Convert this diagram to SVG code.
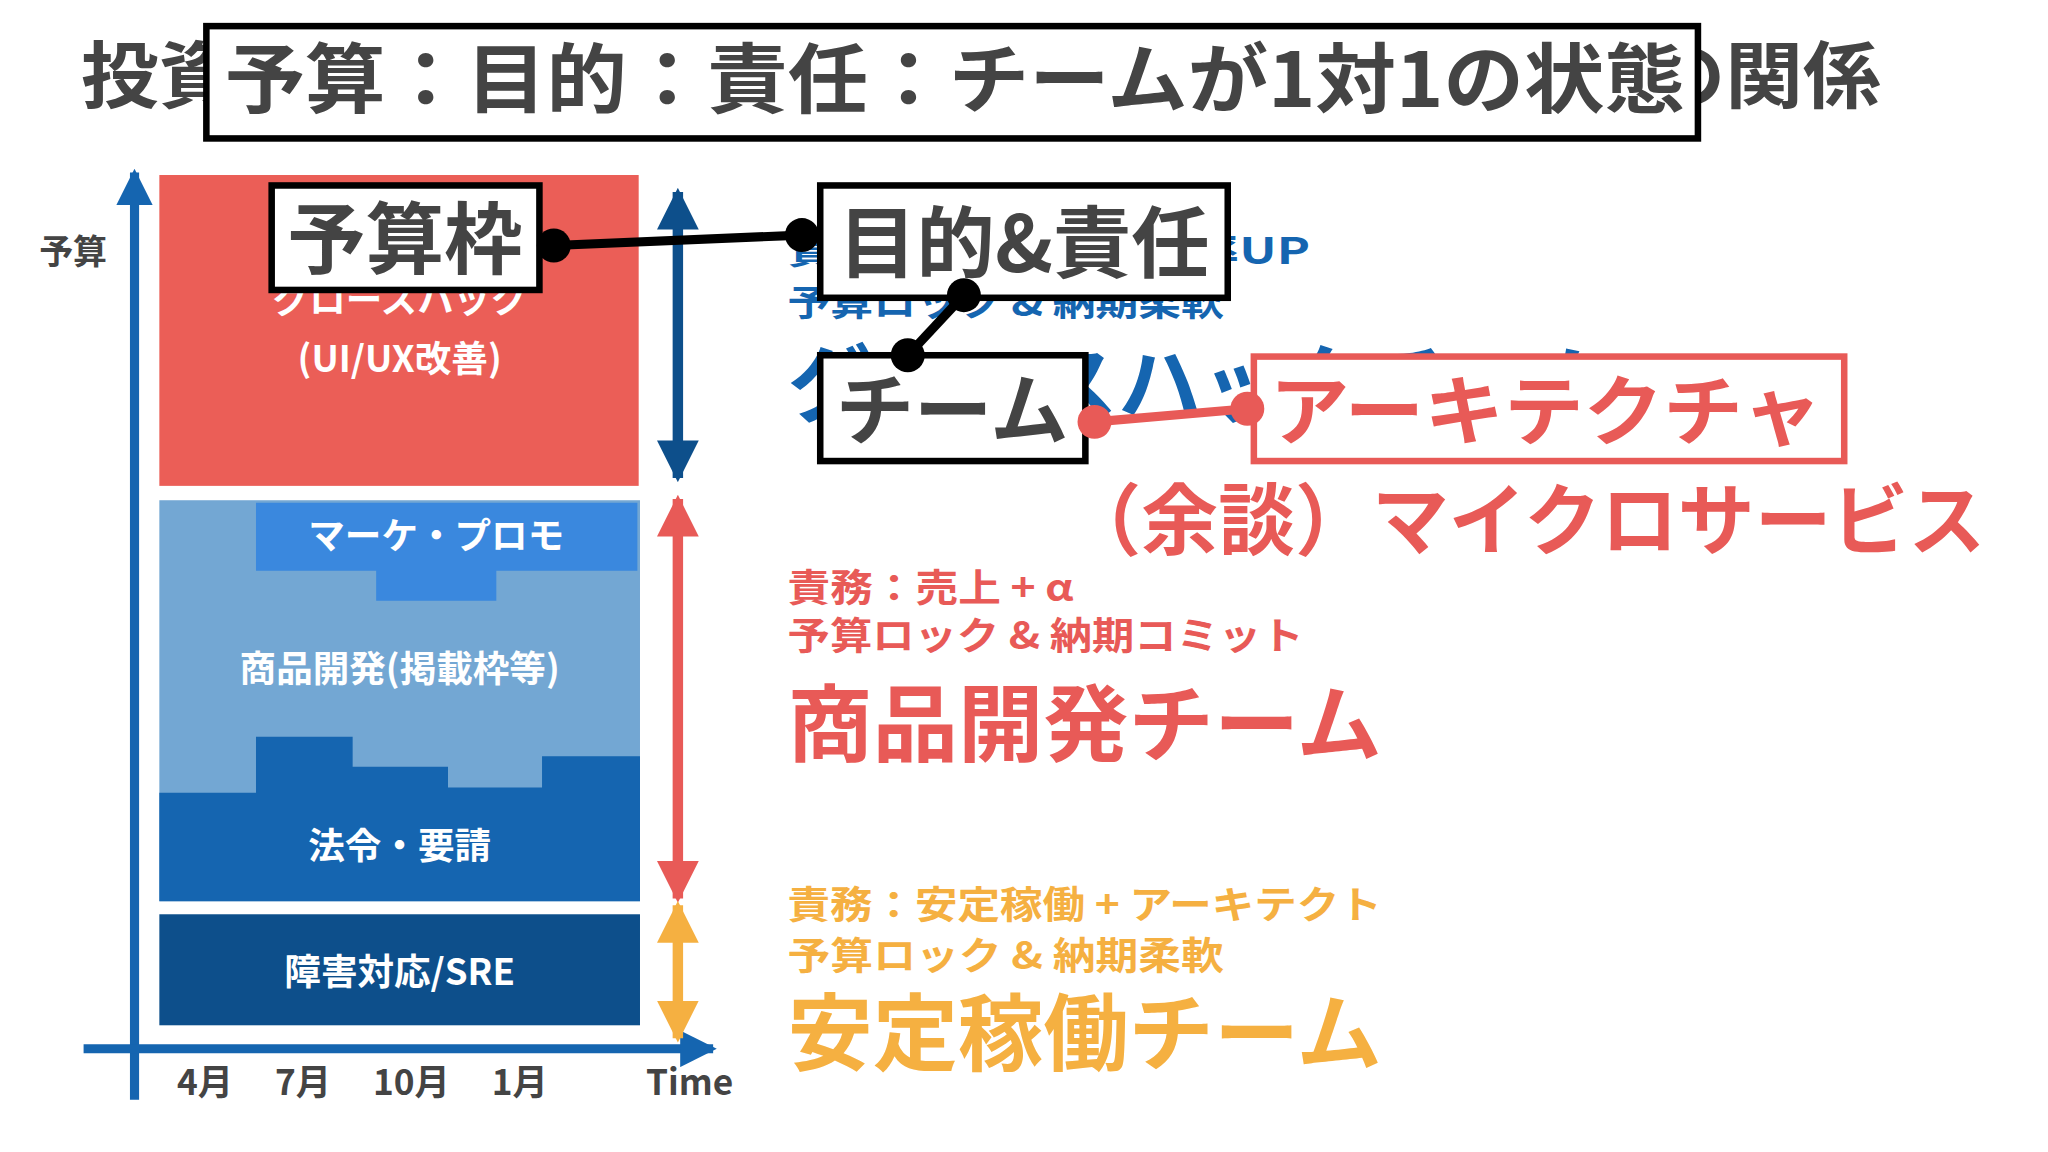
<svg xmlns="http://www.w3.org/2000/svg" width="2048" height="1152" viewBox="0 0 2048 1152">
<style>
text{font-family:"Noto Sans CJK JP","Liberation Sans",sans-serif;font-weight:bold}
.g{fill:#444}
.w{fill:#fff}
.b{fill:#1565b0}
.r{fill:#e85a57}
.o{fill:#f5b041}
.box{fill:#fff;stroke:#000;stroke-width:5}
</style>
<defs>
<marker id="ab" viewBox="0 0 10 10" refX="9" refY="5" markerWidth="4" markerHeight="4" orient="auto-start-reverse"><path d="M0,0L10,5L0,10z" fill="#1565b0"/></marker>
<marker id="an" viewBox="0 0 10 10" refX="9" refY="5" markerWidth="4" markerHeight="4" orient="auto-start-reverse"><path d="M0,0L10,5L0,10z" fill="#0d4f8b"/></marker>
<marker id="ar" viewBox="0 0 10 10" refX="9" refY="5" markerWidth="4" markerHeight="4" orient="auto-start-reverse"><path d="M0,0L10,5L0,10z" fill="#e85a57"/></marker>
<marker id="ao" viewBox="0 0 10 10" refX="9" refY="5" markerWidth="4" markerHeight="4" orient="auto-start-reverse"><path d="M0,0L10,5L0,10z" fill="#f5b041"/></marker>
</defs>
<rect width="2048" height="1152" fill="#fff"/>
<g transform="scale(1.3061)">
<g id="title"><text x="62" y="78" font-size="56" class="g" textLength="1378" lengthAdjust="spacingAndGlyphs">投資予算：目的：責任：チームが1対1の状態の関係</text></g>
<g id="chart">
<rect x="122" y="134" width="367" height="238" fill="#eb5e57"/>
<text x="306" y="240" font-size="28" class="w" text-anchor="middle">グロースハック</text>
<text x="306" y="285" font-size="28" class="w" text-anchor="middle">(UI/UX改善)</text>
<rect x="122" y="383" width="368" height="307" fill="#73a7d3"/>
<path d="M196,385H488V437H380V460H288V437H196z" fill="#3a88de"/>
<text x="334" y="420" font-size="28" class="w" text-anchor="middle">マーケ・プロモ</text>
<text x="306" y="522" font-size="28" class="w" text-anchor="middle">商品開発(掲載枠等)</text>
<path d="M122,607H196V564H270V587H343V603H415V579H490V690H122z" fill="#1565b0"/>
<text x="306" y="658" font-size="28" class="w" text-anchor="middle">法令・要請</text>
<rect x="122" y="700" width="368" height="85" fill="#0d4f8b"/>
<text x="306" y="754" font-size="28" class="w" text-anchor="middle">障害対応/SRE</text>
<text x="30" y="202" font-size="26" class="g">予算</text>
<text x="157" y="838" font-size="27" class="g" text-anchor="middle">4月</text>
<text x="232" y="838" font-size="27" class="g" text-anchor="middle">7月</text>
<text x="315" y="838" font-size="27" class="g" text-anchor="middle">10月</text>
<text x="398" y="838" font-size="27" class="g" text-anchor="middle">1月</text>
<text x="528" y="838" font-size="27" class="g" text-anchor="middle">Time</text>
</g>
<g id="connectors" fill="none">
<line x1="103" y1="842" x2="103" y2="132" stroke="#1565b0" stroke-width="7" marker-end="url(#ab)"/>
<line x1="64" y1="803" x2="546" y2="803" stroke="#1565b0" stroke-width="7" marker-end="url(#ab)"/>
<line x1="519" y1="147" x2="519" y2="366" stroke="#0d4f8b" stroke-width="8" marker-start="url(#an)" marker-end="url(#an)"/>
<line x1="519" y1="382" x2="519" y2="688" stroke="#e85a57" stroke-width="8" marker-start="url(#ar)" marker-end="url(#ar)"/>
<line x1="519" y1="693" x2="519" y2="795" stroke="#f5b041" stroke-width="8" marker-start="url(#ao)" marker-end="url(#ao)"/>
</g>
<g id="teams">
<text x="603" y="202" font-size="28" class="b" textLength="400" lengthAdjust="spacingAndGlyphs">責務：売上 + 転換率UP</text>
<text x="603" y="242" font-size="28" class="b" textLength="334" lengthAdjust="spacingAndGlyphs">予算ロック &amp; 納期柔軟</text>
<text x="603" y="318" font-size="64" class="b">グロースハックチーム</text>
<text x="603" y="460" font-size="29" class="r" textLength="219" lengthAdjust="spacingAndGlyphs">責務：売上 + α</text>
<text x="603" y="497" font-size="29" class="r" textLength="395" lengthAdjust="spacingAndGlyphs">予算ロック &amp; 納期コミット</text>
<text x="603" y="578" font-size="64" class="r" textLength="455" lengthAdjust="spacingAndGlyphs">商品開発チーム</text>
<text x="603" y="703" font-size="29" class="o" textLength="455" lengthAdjust="spacingAndGlyphs">責務：安定稼働 + アーキテクト</text>
<text x="603" y="742" font-size="29" class="o" textLength="334" lengthAdjust="spacingAndGlyphs">予算ロック &amp; 納期柔軟</text>
<text x="603" y="815" font-size="64" class="o" textLength="455" lengthAdjust="spacingAndGlyphs">安定稼働チーム</text>
</g>
<g id="overlay-title"><rect x="158" y="20" width="1142" height="86" class="box"/><text x="172" y="82" font-size="58" class="g" textLength="1118" lengthAdjust="spacingAndGlyphs">予算：目的：責任：チームが1対1の状態</text></g>
<g id="overlay-links">
<line x1="424" y1="188" x2="614" y2="180" stroke="#000" stroke-width="7"/>
<line x1="738" y1="226" x2="695" y2="272" stroke="#000" stroke-width="7"/>
<line x1="838" y1="323" x2="955" y2="313" stroke="#e85a57" stroke-width="7"/>
</g>
<g id="n-budget"><rect x="208" y="142" width="205" height="80" class="box"/><text x="310" y="205" font-size="60" class="g" text-anchor="middle">予算枠</text></g>
<g id="n-purpose"><rect x="628" y="142" width="312" height="86" class="box"/><text x="784" y="208" font-size="60" class="g" text-anchor="middle">目的&amp;責任</text></g>
<g id="n-team"><rect x="628" y="272" width="203" height="81" class="box"/><text x="729" y="336" font-size="60" class="g" text-anchor="middle">チーム</text></g>
<g id="n-arch"><rect x="960" y="273" width="452" height="80" fill="#fff" stroke="#e85a57" stroke-width="5"/><text x="972" y="336" font-size="58" class="r" textLength="423" lengthAdjust="spacingAndGlyphs">アーキテクチャ</text></g>
<g id="dots">
<circle cx="424" cy="188" r="13"/><circle cx="614" cy="180" r="13"/>
<circle cx="738" cy="226" r="13"/><circle cx="695" cy="272" r="13"/>
<circle cx="838" cy="323" r="13" fill="#e85a57"/><circle cx="955" cy="313" r="13" fill="#e85a57"/>
</g>
<g id="aside"><text x="815" y="420" font-size="60" class="r" textLength="705" lengthAdjust="spacingAndGlyphs">（余談）マイクロサービス</text></g>
</g>
</svg>
